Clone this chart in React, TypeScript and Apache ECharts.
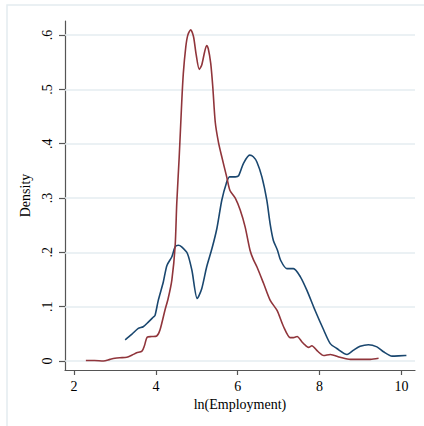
import React, { useEffect, useRef } from "react";
import * as echarts from "echarts";

const yTicks = [0, 0.1, 0.2, 0.3, 0.4, 0.5, 0.6];
const xTicks = [2, 4, 6, 8, 10];

const redX = [2.29, 2.5, 2.72, 2.88, 3.0, 3.12, 3.29, 3.42, 3.53, 3.66, 3.72, 3.79, 3.9, 4.02, 4.1, 4.22, 4.3, 4.39, 4.47, 4.51, 4.57, 4.63, 4.67, 4.73, 4.78, 4.85, 4.92, 4.98, 5.06, 5.12, 5.19, 5.24, 5.28, 5.34, 5.39, 5.45, 5.53, 5.61, 5.73, 5.81, 5.94, 6.06, 6.18, 6.3, 6.38, 6.47, 6.63, 6.79, 6.96, 7.12, 7.28, 7.36, 7.45, 7.57, 7.65, 7.73, 7.81, 7.95, 8.1, 8.26, 8.5, 8.75, 9.07, 9.24, 9.44];
const redY = [0.001, 0.001, 0.0, 0.003, 0.005, 0.006, 0.007, 0.011, 0.015, 0.018, 0.028, 0.044, 0.045, 0.046, 0.057, 0.093, 0.115, 0.149, 0.211, 0.29, 0.376, 0.474, 0.529, 0.578, 0.6, 0.61, 0.597, 0.566, 0.537, 0.545, 0.569, 0.581, 0.575, 0.548, 0.505, 0.44, 0.402, 0.376, 0.339, 0.314, 0.3, 0.278, 0.247, 0.204, 0.187, 0.173, 0.143, 0.112, 0.093, 0.063, 0.043, 0.043, 0.045, 0.035, 0.029, 0.025, 0.028, 0.018, 0.01, 0.012, 0.007, 0.003, 0.003, 0.003, 0.005];

const blueX = [3.25, 3.41, 3.57, 3.69, 3.82, 3.94, 3.98, 4.06, 4.18, 4.27, 4.39, 4.47, 4.55, 4.63, 4.77, 4.88, 5.01, 5.12, 5.24, 5.37, 5.49, 5.61, 5.72, 5.8, 5.94, 6.02, 6.14, 6.29, 6.38, 6.47, 6.59, 6.71, 6.79, 6.87, 6.97, 7.05, 7.2, 7.36, 7.53, 7.69, 7.89, 8.1, 8.26, 8.42, 8.67, 8.83, 8.99, 9.19, 9.4, 9.56, 9.77, 10.09, 10.12];
const blueY = [0.039, 0.049, 0.06, 0.063, 0.072, 0.081, 0.084, 0.112, 0.145, 0.176, 0.192, 0.21, 0.213, 0.21, 0.198, 0.167, 0.115, 0.133, 0.173, 0.207, 0.244, 0.296, 0.327, 0.339, 0.339, 0.341, 0.364, 0.379, 0.376, 0.366, 0.339, 0.296, 0.253, 0.222, 0.204, 0.185, 0.17, 0.17, 0.155, 0.13, 0.093, 0.057, 0.032, 0.023, 0.012, 0.02, 0.027, 0.03, 0.026, 0.017, 0.009, 0.01, 0.01];

const FONT = "'Liberation Serif', 'Times New Roman', serif";

export default function App() {
  const ref = useRef<HTMLDivElement>(null);
  useEffect(() => {
    const chart = echarts.init(ref.current!, null, { renderer: "svg" });
    const pairs = (xs: number[], ys: number[]) => xs.map((x, i) => [x, ys[i]]);
    chart.setOption({
      animation: false,
      backgroundColor: "#ffffff",
      textStyle: { fontFamily: FONT },
      graphic: [
        {
          type: "rect",
          shape: { x: 7, y: 5, width: 420, height: 425 },
          style: { fill: "none", stroke: "#e4ecf0", lineWidth: 1.5 },
          silent: true,
        },
      ],
      grid: { left: 65, right: 9, top: 21, bottom: 56, containLabel: false },
      xAxis: {
        type: "value",
        min: 1.78,
        max: 10.33,
        name: "ln(Employment)",
        nameLocation: "middle",
        nameGap: 26,
        nameTextStyle: { fontFamily: FONT, fontSize: 14, color: "#000" },
        axisLine: { show: true, onZero: false, lineStyle: { color: "#555", width: 1.2 } },
        axisTick: { show: true, customValues: xTicks, length: 5, lineStyle: { color: "#555", width: 1.2 } },
        axisLabel: {
          customValues: xTicks,
          margin: 9,
          fontFamily: FONT,
          fontSize: 14,
          fontWeight: "normal",
          color: "#000",
          formatter: (v: number) => String(v),
        },
        splitLine: { show: false },
      },
      yAxis: {
        type: "value",
        min: -0.0166,
        max: 0.626,
        name: "Density",
        nameLocation: "middle",
        nameRotate: 90,
        nameGap: 25,
        nameTextStyle: { fontFamily: FONT, fontSize: 14, color: "#000" },
        axisLine: { show: true, onZero: false, lineStyle: { color: "#555", width: 1.2 } },
        axisTick: { show: true, customValues: yTicks, length: 6, lineStyle: { color: "#555", width: 1.2 } },
        axisLabel: {
          customValues: yTicks,
          rotate: 90,
          margin: 11,
          fontFamily: FONT,
          fontSize: 14,
          color: "#000",
          formatter: (v: number) => (Math.abs(v) < 1e-9 ? "0" : v.toFixed(1).replace(/^0/, "")),
        },
        splitLine: { show: false },
      },
      series: [
        {
          type: "line",
          data: pairs(blueX, blueY),
          showSymbol: false,
          smooth: 0.25,
          lineStyle: { color: "#1a476f", width: 1.6 },
          z: 3,
          markLine: {
            silent: true,
            symbol: "none",
            z: 1,
            label: { show: false },
            lineStyle: { color: "#e4ecf0", width: 1.5, type: "solid" },
            data: yTicks.map((v) => ({ yAxis: v })),
          },
        },
        {
          type: "line",
          data: pairs(redX, redY),
          showSymbol: false,
          smooth: 0.25,
          lineStyle: { color: "#90353b", width: 1.6 },
          z: 3,
        },
      ],
    });
    return () => chart.dispose();
  }, []);
  return <div ref={ref} style={{ position: "absolute", left: 0, top: 0, width: 424, height: 426 }} />;
}
